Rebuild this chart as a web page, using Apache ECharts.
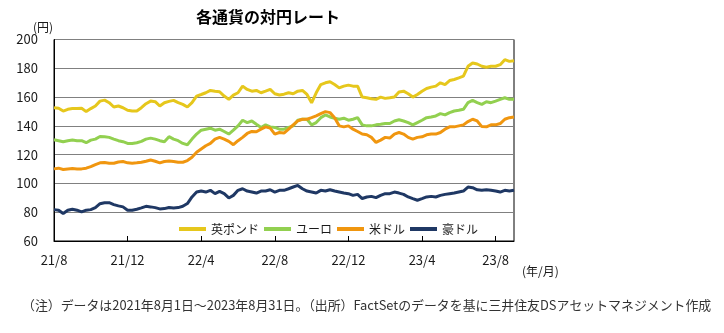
<!DOCTYPE html>
<html><head><meta charset="utf-8">
<script src="https://cdn.jsdelivr.net/npm/echarts@6/dist/echarts.min.js"></script>
<style>html,body{margin:0;padding:0;background:#fff}#c{width:724px;height:333px}</style>
</head><body><div id="c"></div>
<script>
// Quarter-month samples from 2021/8/1 to 2023/8/31 (101 points)
const seriesNames = ['英ポンド', 'ユーロ', '米ドル', '豪ドル'];
const xTickLabels = ['21/8', '21/12', '22/4', '22/8', '22/12', '23/4', '23/8'];
const yTicks = [60, 200, 20];
const gbp = [152.6,152.2,150.3,151.5,152.0,152.0,152.2,149.9,152.0,153.8,157.2,157.9,156.1,153.1,153.8,152.6,150.8,150.3,150.3,152.6,155.4,157.2,156.8,153.8,156.1,157.0,
157.7,156.1,154.9,153.1,156.1,160.7,161.8,163.0,164.6,164.1,163.7,160.7,158.4,161.4,163.0,167.6,165.3,164.1,164.6,163.0,164.1,165.3,162.3,161.4,162.0,
163.0,162.3,164.1,164.6,161.8,156.0,163.0,168.7,169.9,170.6,168.7,166.4,167.6,168.3,167.6,167.6,160.0,159.5,158.9,158.4,160.0,159.1,159.5,160.0,163.5,
164.1,162.3,160.0,161.8,164.1,166.0,166.9,167.6,169.9,168.7,171.5,172.2,173.3,174.5,181.4,183.7,183.0,181.4,180.7,181.4,181.4,182.5,186.0,184.8,185.3];
const eur = [130.3,129.7,129.0,129.7,130.1,129.7,129.7,128.3,130.1,130.8,132.6,132.4,132.0,130.8,129.7,129.0,127.8,127.8,128.3,129.2,130.8,131.5,130.8,129.7,129.0,132.5,
130.8,129.7,127.8,126.9,130.8,134.3,137.0,137.7,138.4,137.0,137.7,136.1,134.3,137.0,140.0,143.9,142.3,143.4,141.1,138.9,140.7,139.3,138.9,137.7,137.7,
138.9,140.0,143.9,144.6,144.6,140.7,142.3,145.7,147.6,146.2,145.3,144.6,145.3,143.9,144.6,145.7,140.7,140.0,140.0,140.7,141.1,141.6,141.6,143.4,144.2,
143.4,142.3,140.7,142.3,143.9,145.7,146.2,146.9,148.5,147.6,149.2,150.3,150.8,151.5,156.1,157.7,156.1,154.9,156.8,156.1,157.2,158.4,159.5,158.4,158.4];
const usd = [110.1,110.6,109.7,110.1,110.3,110.1,110.1,110.6,111.7,113.1,114.3,114.5,114.0,114.0,114.9,115.2,114.3,114.0,114.3,114.7,115.4,116.3,115.4,114.3,115.2,115.6,
115.2,114.7,114.7,115.9,118.2,121.6,123.9,126.2,127.8,130.8,132.0,130.8,129.2,126.9,129.7,132.0,134.7,136.1,135.9,137.7,139.3,138.4,134.3,135.4,135.0,
137.7,140.7,143.4,144.6,144.6,145.7,146.9,148.5,149.9,149.2,145.7,140.0,139.3,140.0,137.7,136.1,134.3,133.8,132.0,128.5,130.1,132.0,131.5,134.3,135.4,
134.3,132.0,130.8,132.0,132.4,133.8,134.3,134.3,135.4,137.7,139.3,139.3,140.0,140.7,143.0,144.6,143.4,139.5,139.3,140.7,140.7,141.6,144.6,145.7,146.2];
const aud = [81.8,81.4,79.1,81.4,82.1,81.4,80.2,81.4,81.8,83.2,85.9,86.6,86.6,85.3,84.4,83.7,81.4,81.4,82.1,83.0,84.1,83.7,83.2,82.3,82.5,83.3,
83.0,83.2,84.1,86.0,90.6,94.0,94.7,94.0,95.2,92.9,94.5,92.9,89.9,91.7,95.2,96.3,94.7,94.0,93.3,94.7,94.7,95.6,94.0,95.2,95.2,
96.3,97.5,98.6,96.3,94.7,94.0,93.3,95.2,94.7,95.6,94.7,94.0,93.3,92.9,91.7,92.4,89.5,90.6,91.0,90.1,91.7,92.9,92.9,94.0,93.3,
92.4,90.6,89.4,88.3,89.4,90.6,91.0,90.6,91.7,92.4,92.9,93.3,94.0,94.7,97.5,97.0,95.6,95.2,95.6,95.2,94.7,94.0,95.2,94.7,95.2];

const dates = [];
for (let m = 0; m < 25; m++) {
  const yr = 2021 + Math.floor((7 + m) / 12), mo = (7 + m) % 12 + 1;
  [1, 8, 16, 23].forEach(d => dates.push(yr + '/' + mo + '/' + d));
}
dates.push('2023/8/31');

const colors = ['#E6C71C', '#92D050', '#F0960F', '#1F3864'];
const values = [gbp, eur, usd, aud];
const JP = '"Noto Sans CJK JP","Noto Sans",sans-serif';

const chart = echarts.init(document.getElementById('c'), null, {renderer: 'canvas'});
chart.setOption({
  animation: false,
  textStyle: {fontFamily: JP},
  grid: {left: 54, right: 210, top: 39.5, bottom: 92, show: true, borderColor: '#000', borderWidth: 1, containLabel: false},
  xAxis: {
    type: 'category', data: dates, boundaryGap: false,
    axisLine: {lineStyle: {color: '#000', width: 1}},
    axisTick: {show: true, inside: true, length: 5, interval: 15, lineStyle: {color: '#000'}},
    axisLabel: {interval: 15, margin: 13, color: '#1a1a1a', fontSize: 13, fontFamily: JP,
      formatter: (v, i) => xTickLabels[Math.round(i / 16)] || ''},
    splitLine: {show: false}
  },
  yAxis: {
    type: 'value', min: yTicks[0], max: yTicks[1], interval: yTicks[2],
    axisLine: {show: true, lineStyle: {color: '#000', width: 1}},
    axisTick: {show: false},
    axisLabel: {margin: 16, color: '#1a1a1a', fontSize: 13, fontFamily: JP},
    splitLine: {show: true, lineStyle: {color: '#808080', width: 1}}
  },
  legend: {
    left: 174, top: 218, icon: 'rect', itemWidth: 27, itemHeight: 4, itemGap: 5,
    textStyle: {fontSize: 12, color: '#1a1a1a', fontFamily: JP},
    data: seriesNames
  },
  series: seriesNames.map((n, k) => ({
    name: n, type: 'line', data: values[k], showSymbol: false, symbol: 'none',
    lineStyle: {color: colors[k], width: 3}, itemStyle: {color: colors[k]}
  })),
  graphic: [
    {type: 'text', x: 268, y: 17, style: {text: '各通貨の対円レート', font: 'bold 16px ' + JP, fill: '#000', align: 'center', verticalAlign: 'middle'}},
    {type: 'text', x: 33, y: 27, style: {text: '(円)', font: '12px ' + JP, fill: '#1a1a1a', verticalAlign: 'middle'}},
    {type: 'text', x: 522, y: 271, style: {text: '(年/月)', font: '12px ' + JP, fill: '#1a1a1a', verticalAlign: 'middle'}},
    {type: 'text', x: 22, y: 305, style: {text: '（注）データは2021年8月1日～2023年8月31日。（出所）FactSetのデータを基に三井住友DSアセットマネジメント作成', font: '12.9px ' + JP, fill: '#333', verticalAlign: 'middle'}}
  ]
});
</script></body></html>
